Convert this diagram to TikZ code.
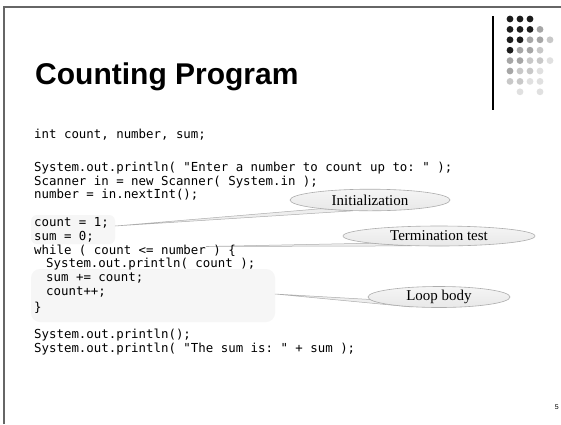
\documentclass[tikz,border=0pt]{standalone}
\usepackage{fontspec}
\setmainfont{Liberation Serif}
\setsansfont{Liberation Sans}
\setmonofont{DejaVu Sans Mono}
\usetikzlibrary{shapes.geometric}
\pgfdeclarelayer{bg}
\pgfsetlayers{bg,main}
\definecolor{dK}{HTML}{1C1C1C}
\definecolor{dG}{HTML}{A6A6A6}
\definecolor{dL}{HTML}{C8C8C8}
\definecolor{dV}{HTML}{E0E0E0}
\definecolor{bubfill}{HTML}{EEEEEE}
\definecolor{bubline}{HTML}{ADADAD}
\definecolor{hl}{HTML}{F6F6F6}
\begin{document}
\begin{tikzpicture}[x=1pt,y=-1pt,
  code/.style={anchor=base west, inner sep=0pt, font=\fontsize{12.4}{14}\selectfont\ttfamily},
  bubble/.style={ellipse, draw=bubline, top color=white!96!black, bottom color=black!9, line width=0.6pt, inner sep=0pt, font=\fontsize{15}{17}\selectfont\rmfamily},
  tail/.style={draw=bubline, fill=bubfill, line width=0.5pt, line join=round},
  hlbox/.style={fill=hl},
  dot/.style={circle, inner sep=0pt, minimum size=6.8pt}]
\useasboundingbox (0,0) rectangle (561,424);
% frame
\draw[line width=2pt, color=black!60] (4,424) -- (4,7.3) -- (561,7.3);
% title
\node[anchor=base west, inner sep=0pt, font=\fontsize{30}{34}\selectfont\sffamily\bfseries] (title) at (35,84) {Counting Program};
% logo
\draw[line width=1.3pt] (493,16) -- (493,110);
\foreach \r/\cols in {1/{dK,dK,dK},2/{dK,dK,dK,dG},3/{dK,dK,dG,dG,dL},4/{dK,dG,dG,dL},5/{dG,dG,dL,dL,dV},6/{dG,dL,dL,dV},7/{dL,dL,dV,dV}}{
  \foreach \c [count=\i] in \cols {
    \node[dot, fill=\c] (d\r\i) at ({510+10*(\i-1)},{19+10.4*(\r-1)}) {};
  }
}
\node[dot, fill=dV] (d82) at (520,91.8) {};
\node[dot, fill=dV] (d84) at (540,91.8) {};
% code
\node[code] (l1) at (34,138) {int count, number, sum;};
\node[code] (l2) at (34,171.5) {System.out.println( "Enter a number to count up to: " );};
\node[code] (l3) at (34,185) {Scanner in = new Scanner( System.in );};
\node[code] (l4) at (34,198) {number = in.nextInt();};
\node[code] (l5) at (34,226.5) {count = 1;};
\node[code] (l6) at (34,240.5) {sum = 0;};
\node[code] (l7) at (34,254) {while ( count <= number ) \{};
\node[code] (l8) at (46,267.5) {System.out.println( count );};
\node[code] (l9) at (46,281) {sum += count;};
\node[code] (l10) at (46,295.5) {count++;};
\node[code] (l11) at (34,311) {\}};
\node[code] (l12) at (34,338) {System.out.println();};
\node[code] (l13) at (34,352) {System.out.println( "The sum is: " + sum );};
% bubbles
\node[bubble, minimum width=160pt, minimum height=21.6pt] (init) at (370,200) {Initialization};
\node[bubble, minimum width=192pt, minimum height=20pt] (term) at (439,236) {Termination test};
\node[bubble, minimum width=142pt, minimum height=21pt] (loop) at (439,297) {Loop body};
\coordinate (tI) at (115,226);
\coordinate (tT) at (206,246.5);
\coordinate (tL) at (275,294);
\begin{pgfonlayer}{bg}
  \fill[white] (0,0) rectangle (561,424);
  \fill[hlbox, rounded corners=6pt] (31,215) rectangle (115,244);
  \fill[hlbox, rounded corners=9pt] (31,269) rectangle (275,322);
  \path[tail] (init.190) -- (tI) -- (init.212) -- cycle;
  \path[tail] (term.186) -- (tT) -- (term.200) -- cycle;
  \path[tail] (loop.182) -- (tL) -- (loop.200) -- cycle;
\end{pgfonlayer}
% page number
\node[anchor=base east, inner sep=0pt, font=\fontsize{7}{8}\selectfont\sffamily] (pg) at (559,409) {5};
\end{tikzpicture}
\end{document}
